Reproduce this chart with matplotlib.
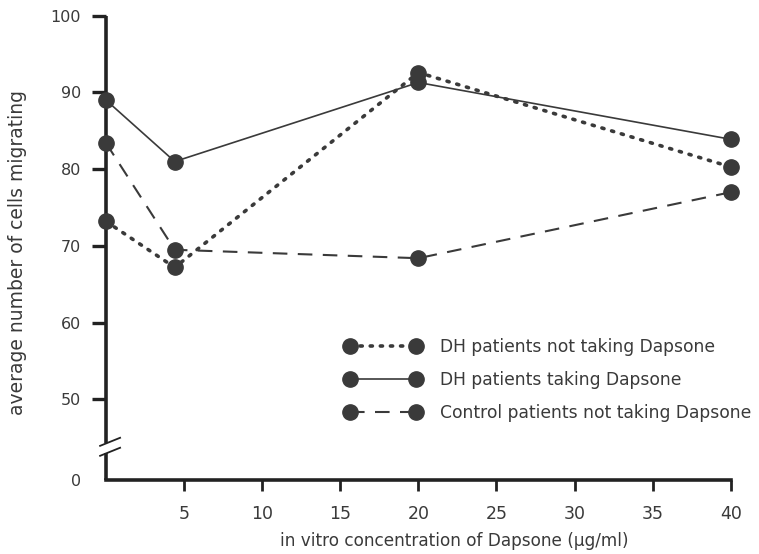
import matplotlib
matplotlib.use("Agg")
import matplotlib.pyplot as plt
from matplotlib.lines import Line2D

# concentration of Dapsone (ug/ml)
conc = [0, 4.4, 20, 40]
dh_not_taking = [73.2, 67.2, 92.6, 80.3]
dh_taking = [89.0, 81.0, 91.3, 83.9]
control_not_taking = [83.4, 69.5, 68.4, 77.0]

xticks = [5, 10, 15, 20, 25, 30, 35, 40]
ytick_vals = [50, 60, 70, 80, 90, 100]
y_zero_pos = 39.5  # where "0" sits below the axis break

ink = "#3a3a3a"
plt.rcParams['font.family'] = ['DejaVu Sans']
plt.rcParams['text.color'] = ink

fig = plt.figure(figsize=(7.59, 5.54), dpi=100)
ax = fig.add_axes([0.1397, 0.1336, 0.823, 0.838])

mk = dict(marker='o', markersize=11, color=ink, markeredgecolor=ink)
ax.plot(conc, dh_not_taking, linestyle=(0, (0.6, 2.2)), linewidth=2.6,
        dash_capstyle='round', label='DH patients not taking Dapsone',
        clip_on=False, zorder=3, **mk)
ax.plot(conc, dh_taking, linestyle='-', linewidth=1.2,
        label='DH patients taking Dapsone', clip_on=False, zorder=3, **mk)
ax.plot(conc, control_not_taking, linestyle=(0, (7, 5)), linewidth=1.5,
        label='Control patients not taking Dapsone', clip_on=False, zorder=3, **mk)

ax.set_xlim(0, 40)
ax.set_ylim(y_zero_pos, 100)

for s in ['top', 'right', 'left']:
    ax.spines[s].set_visible(False)
ax.spines['bottom'].set_linewidth(2.6)
ax.spines['bottom'].set_color('#222222')

# left axis with a break
brk_lo, brk_hi = 43.0, 44.3
ax.add_line(Line2D([0, 0], [brk_hi, 100], color='#222222', linewidth=2.6,
                   clip_on=False, solid_capstyle='butt'))
ax.add_line(Line2D([0, 0], [y_zero_pos, brk_lo], color='#222222', linewidth=2.6,
                   clip_on=False, solid_capstyle='butt'))
for yb in (brk_lo, brk_hi):
    ax.add_line(Line2D([-0.38, 0.9], [yb - 0.35, yb + 0.7], color='#222222',
                       linewidth=1.3, clip_on=False))

ax.set_xticks(xticks)
ax.set_xticklabels([str(v) for v in xticks], fontsize=12.5)
ax.set_yticks([y_zero_pos] + ytick_vals)
ax.set_yticklabels(['0'] + [str(v) for v in ytick_vals], fontsize=11.5)
ax.tick_params(axis='x', direction='out', length=8, width=2, color='#222222',
               pad=10, labelcolor=ink)
ax.tick_params(axis='y', direction='out', length=10, width=2.4, color='#222222',
               pad=8, labelcolor=ink)
ax.yaxis.get_major_ticks()[0].tick1line.set_visible(False)

ax.set_xlabel('in vitro concentration of Dapsone (\u03bcg/ml)', fontsize=12.2, color=ink)
ax.xaxis.set_label_coords(0.557, -0.112)
ax.set_ylabel('average number of cells migrating', fontsize=13.5, color=ink)
ax.yaxis.set_label_coords(-0.126, 0.49)

ax.legend(loc='upper left', bbox_to_anchor=(0.357, 0.34), frameon=False,
          numpoints=2, handlelength=4.5, handletextpad=1.1, labelspacing=0.88,
          fontsize=12.3, labelcolor=ink)

fig.savefig('out.png', dpi=100)
